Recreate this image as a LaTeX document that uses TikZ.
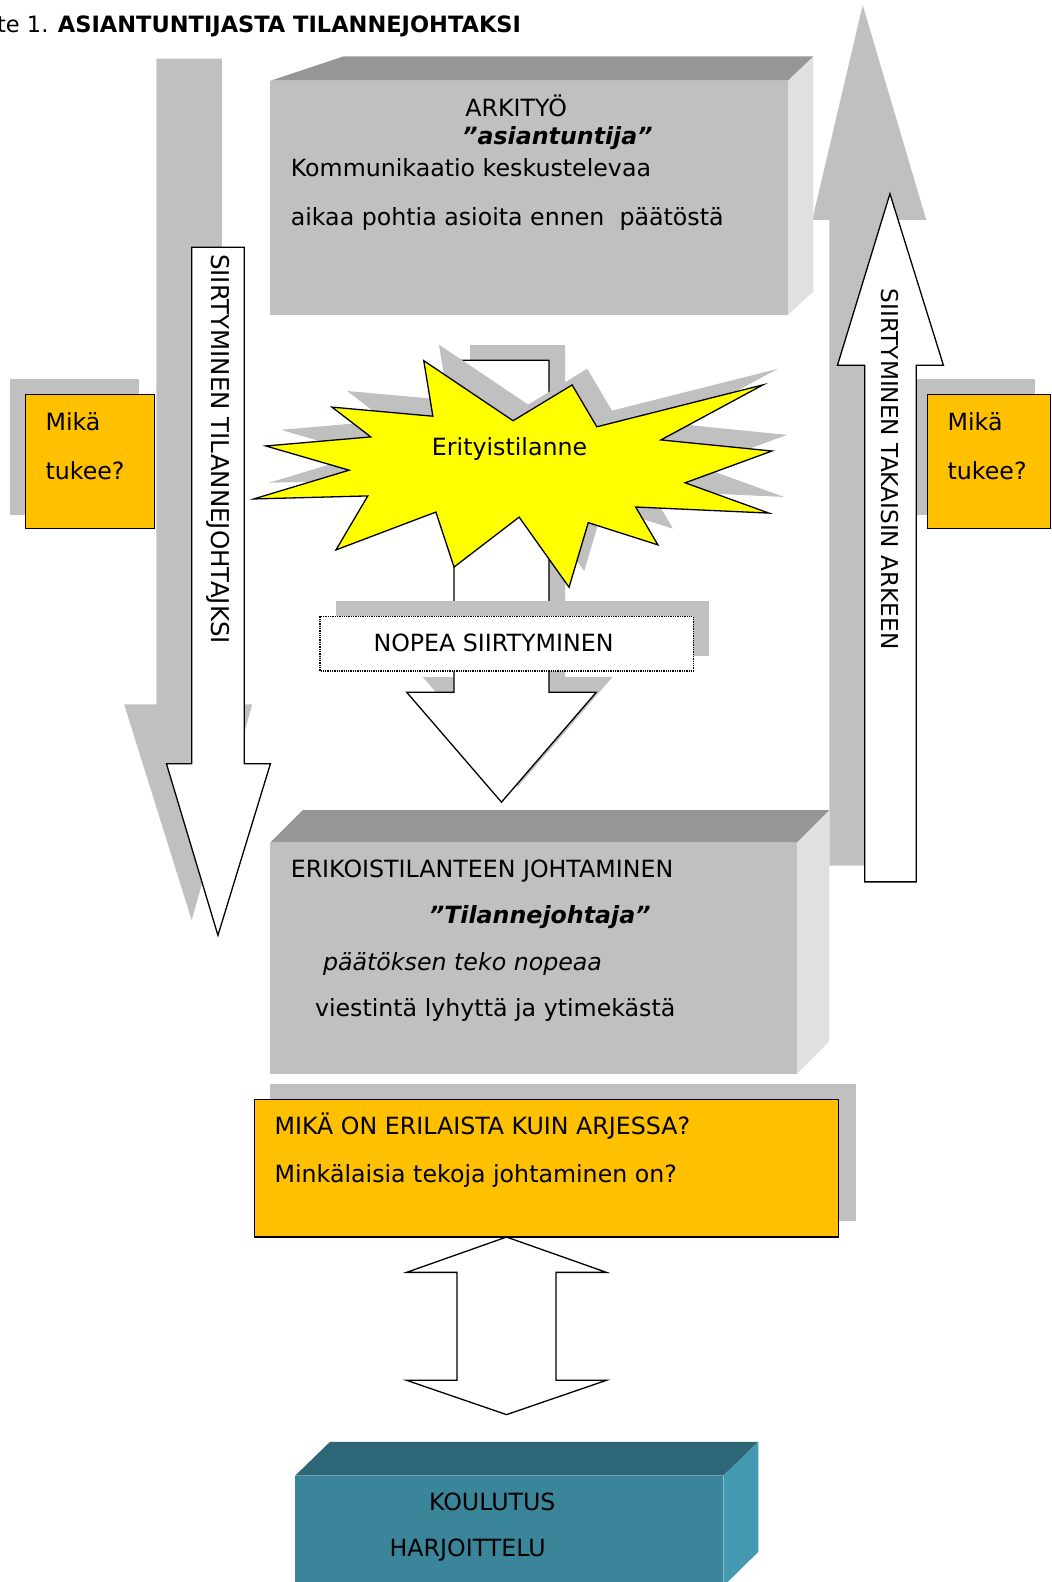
\documentclass[tikz,border=0pt]{standalone}
\usepackage{fontspec}
\setmainfont{DejaVu Sans}
\usetikzlibrary{positioning}

\definecolor{shadegray}{RGB}{192,192,192}
\definecolor{boxfront}{RGB}{192,192,192}
\definecolor{boxtop}{RGB}{150,150,150}
\definecolor{boxside}{RGB}{224,224,224}
\definecolor{qorange}{RGB}{255,192,0}
\definecolor{burstyellow}{RGB}{255,255,0}
\definecolor{tealfront}{RGB}{58,133,153}
\definecolor{tealtop}{RGB}{45,102,118}
\definecolor{tealside}{RGB}{68,153,177}

\begin{document}
\begin{tikzpicture}[x=1.009pt, y=-1.009pt,
    txt/.style={anchor=base west, inner sep=0pt, font=\fontsize{23.7}{28}\selectfont},
    shade/.style={fill=shadegray},
    outline/.style={draw=black, line width=1.3pt, fill=white, line join=miter},
    question/.style={draw=black, line width=1.3pt, fill=qorange}]

    % Fix the page size
    \useasboundingbox (0,0) rectangle (1042.6,1567.9);

    % Draw the title
    \node[txt, font=\fontsize{22.5}{27}\selectfont] (title) at (-3,32) {te 1. \textbf{ASIANTUNTIJASTA TILANNEJOHTAKSI}};

    % Draw the big grey arrows behind everything
    \fill[shade] (155,58) -- (220,58) -- (220,698) -- (250,698) -- (190,912) -- (123,698) -- (155,698) -- cycle;
    \fill[shade] (822,858) -- (822,218) -- (805,218) -- (855,5) -- (918,218) -- (888,218) -- (888,858) -- cycle;

    % Draw the everyday work box
    \fill[boxtop] (268,80) -- (340,56) -- (806,56) -- (781,80) -- cycle;
    \fill[boxside] (781,80) -- (806,56) -- (806,289) -- (781,312) -- cycle;
    \fill[boxfront] (268,80) rectangle (781,312);
    \node[txt] (arki) at (461,115) {ARKITYÖ};
    \node[txt] (expert) at (458,143) {\textbf{\textit{”asiantuntija”}}};
    \node[txt] (comm) at (288,175) {Kommunikaatio keskustelevaa};
    \node[txt] (time) at (288,223) {aikaa pohtia asioita ennen\ \ päätöstä};

    % Draw the two question boxes at the sides
    \foreach \x/\w/\n in {25/128/left, 919/122/right} {
        \fill[shade] (\x-15,376) rectangle (\x+\w-15,510);
        \draw[question] (\x,391) rectangle (\x+\w,524);
        \node[txt] (mika\n) at (\x+20,427) {Mikä};
        \node[txt] (tukee\n) at (\x+20,475) {tukee?};
    }

    % Draw the white transition arrows
    \draw[outline] (190,245) -- (242,245) -- (242,757) -- (268,757) -- (216,927) -- (165,757) -- (190,757) -- cycle;
    \node[txt, anchor=center, rotate=-90, font=\fontsize{24.5}{29}\selectfont] (tolead) at (216,445) {SIIRTYMINEN TILANNEJOHTAJKSI};
    \draw[outline] (857,874) -- (857,362) -- (830,362) -- (882,192) -- (935,362) -- (908,362) -- (908,874) -- cycle;
    \node[txt, anchor=center, rotate=-90, font=\fontsize{23.2}{28}\selectfont] (toback) at (882,465) {SIIRTYMINEN TAKAISIN ARKEEN};

    % Draw the quick arrow down the middle, shadow first
    \foreach \dx/\dy/\col/\edge in {16/-15/shadegray/none, 0/0/white/black}
        \filldraw[fill=\col, draw=\edge, line width=1.3pt, shift={(\dx,\dy)}]
            (450,357) -- (544,357) -- (544,686) -- (591,686) -- (497,795) -- (403,686) -- (450,686) -- cycle;

    % Draw the starburst
    \foreach \dx/\dy/\col/\edge in {15/-16/shadegray/none, 0/0/burstyellow/black}
        \filldraw[fill=\col, draw=\edge, line width=1.3pt, shift={(\dx,\dy)}]
            (420,357.5) -- (508.5,417) -- (567,381.5) -- (591.5,423) -- (756,381.5) -- (655,436)
            -- (765,447) -- (679,478.5) -- (762,508.5) -- (630,502.5) -- (652,540) -- (583,518)
            -- (564,582) -- (514.5,512.5) -- (450,562) -- (432,507.5) -- (333,545) -- (364.5,491.5)
            -- (251.5,494.5) -- (346,466) -- (263.5,442) -- (367.5,433) -- (329,403.5) -- (429,412.5) -- cycle;
    \node[txt, anchor=center] (burst) at (505,445) {Erityistilanne};

    % Draw the dotted label box
    \fill[shade] (333,596) rectangle (703,650);
    \draw[densely dotted, line width=1.3pt, fill=white] (317,611) rectangle (687,665);
    \node[txt] (nopea) at (370,646) {NOPEA SIIRTYMINEN};

    % Draw the special situation box
    \fill[boxtop] (268,835) -- (300,803) -- (822,803) -- (790,835) -- cycle;
    \fill[boxside] (790,835) -- (822,803) -- (822,1032) -- (790,1064) -- cycle;
    \fill[boxfront] (268,835) rectangle (790,1064);
    \node[txt] (erik) at (288,870) {ERIKOISTILANTEEN JOHTAMINEN};
    \node[txt] (leader) at (425,915) {\textbf{\textit{”Tilannejohtaja”}}};
    \node[txt] (fast) at (320,962) {\textit{päätöksen teko nopeaa}};
    \node[txt] (short) at (312,1007) {viestintä lyhyttä ja ytimekästä};

    % Draw the wide question box
    \fill[shade] (268,1074) rectangle (848,1210);
    \draw[question] (252,1090) rectangle (831,1226);
    \node[txt] (diff) at (272,1124) {MIKÄ ON ERILAISTA KUIN ARJESSA?};
    \node[txt] (acts) at (272,1172) {Minkälaisia tekoja johtaminen on?};

    % Draw the double arrow
    \draw[outline] (502,1226) -- (601,1261) -- (551,1261) -- (551,1368) -- (601,1368) -- (502,1402)
        -- (403,1368) -- (453,1368) -- (453,1261) -- (403,1261) -- cycle;

    % Draw the training box
    \fill[tealtop] (292.5,1462.5) -- (327,1429) -- (751.5,1429) -- (717,1462.5) -- cycle;
    \fill[tealside] (717,1462.5) -- (751.5,1429) -- (751.5,1538) -- (717,1572) -- cycle;
    \fill[tealfront] (292.5,1462.5) rectangle (717,1575);
    \node[txt] (koul) at (425,1497) {KOULUTUS};
    \node[txt] (harj) at (386,1543) {HARJOITTELU};
\end{tikzpicture}
\end{document}
